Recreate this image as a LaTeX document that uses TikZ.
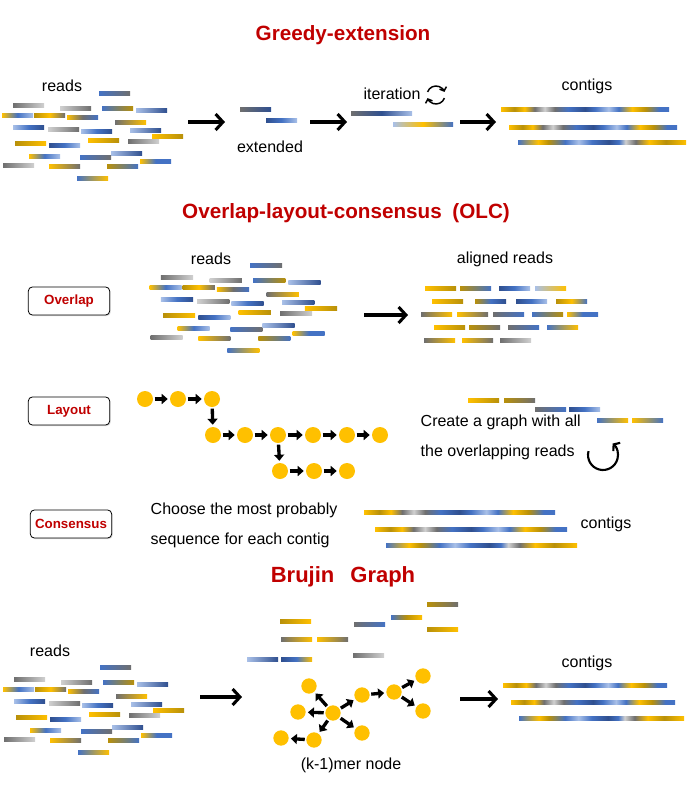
\documentclass[tikz,border=0pt]{standalone}
\usepackage{fontspec}
\setmainfont{Liberation Sans}
\usepackage{xcolor}
\usetikzlibrary{arrows.meta, shadows}

\definecolor{gold}{HTML}{FFC000}
\definecolor{dgold}{HTML}{B8900A}
\definecolor{blu}{HTML}{4472C4}
\definecolor{dblu}{HTML}{2F4F8F}
\definecolor{lblu}{HTML}{A9C0E8}
\definecolor{gry}{HTML}{6F6F6F}
\definecolor{lgry}{HTML}{D0D0D0}
\definecolor{titlered}{HTML}{C00000}

% contig shadings
\pgfdeclarehorizontalshading{contigA}{100bp}{color(0bp)=(gold); color(25bp)=(gold); color(29bp)=(dgold); color(32bp)=(gold); color(35bp)=(gry); color(38bp)=(lgry); color(41bp)=(gry); color(45bp)=(blu); color(50bp)=(dblu); color(53bp)=(blu); color(57bp)=(lblu); color(60bp)=(blu); color(64bp)=(gold); color(68bp)=(dgold); color(72bp)=(blu); color(75bp)=(blu); color(100bp)=(blu)}
\pgfdeclarehorizontalshading{contigB}{100bp}{color(0bp)=(blu); color(25bp)=(blu); color(31bp)=(gold); color(34bp)=(dgold); color(39bp)=(blu); color(43bp)=(lblu); color(47bp)=(blu); color(52bp)=(dblu); color(55bp)=(blu); color(57bp)=(lgry); color(60bp)=(gry); color(64bp)=(gold); color(69bp)=(dgold); color(75bp)=(gold); color(100bp)=(gold)}

% one read
\newcommand{\readbar}[3]{\shade[left color=#2, right color=#3] (#1) rectangle ++(31,4.5);}
\newcommand{\readbarm}[4]{\shade[left color=#2, right color=#4, middle color=#3] (#1) rectangle ++(31,4.5);}

% the cloud of reads
\newcommand{\readcloud}{%
  \readbar{99,91}{blu}{gry}
  \readbar{13,103}{gry}{lgry}
  \readbar{60,106}{lgry}{gry}
  \readbar{102,106}{blu}{dgold}
  \readbar{136,108}{lblu}{dblu}
  \readbarm{2,113}{gold}{blu}{lblu}
  \readbarm{34,113}{dgold}{gold}{gry}
  \readbarm{67,115}{gold}{gry}{blu}
  \readbar{115,120}{gry}{gold}
  \readbarm{13,125}{lblu}{blu}{dblu}
  \readbar{48,127}{lgry}{gry}
  \readbarm{81,129}{lblu}{blu}{dblu}
  \readbar{130,128}{lblu}{dblu}
  \readbar{152,134}{gold}{dgold}
  \readbar{88,138}{gold}{dgold}
  \readbar{128,139}{gry}{lgry}
  \readbar{15,141}{dgold}{gold}
  \readbarm{49,143}{dblu}{blu}{lblu}
  \readbar{111,151}{lblu}{dblu}
  \readbarm{29,154}{gold}{blu}{lblu}
  \readbar{80,155}{blu}{gry}
  \readbarm{140,159}{gold}{blu}{blu}
  \readbar{3,163}{gry}{lgry}
  \readbar{49,164}{gold}{gry}
  \readbar{107,164}{dgold}{blu}
  \readbar{77,176}{blu}{gold}
}

\begin{document}
\begin{tikzpicture}[x=0.75pt, y=-0.75pt,
    title/.style={font=\fontsize{15.5}{18}\selectfont\bfseries, text=titlered},
    lbl/.style={font=\fontsize{12}{14}\selectfont},
    stepbox/.style={draw, rounded corners=3pt, line width=0.6pt, fill=white, drop shadow={opacity=0.3, shadow xshift=0.8pt, shadow yshift=-0.8pt}, font=\fontsize{10}{12}\selectfont\bfseries, text=titlered, minimum width=61pt, minimum height=21pt},
    bigarrow/.style={line width=2.3pt, -{Straight Barb[length=5.5pt,width=12pt]}},
    dot/.style={circle, fill=gold, minimum size=12pt, inner sep=0pt},
    bdot/.style={circle, fill=gold, minimum size=11.5pt, inner sep=0pt},
    link/.style={line width=2.5pt, -{Triangle[length=4.5pt,width=7.5pt]}, shorten <=1pt, shorten >=1.5pt}]
    \useasboundingbox (0,0) rectangle (688,804);

    % Titles
    \node[title] (greedy) at (343,35) {Greedy-extension};
    \node[title] (olc) at (346,213) {Overlap-layout-consensus\hspace{8pt}(OLC)};
    \node[title, font=\fontsize{16.5}{19}\selectfont\bfseries] (brujin) at (343,577) {Brujin\hspace{12pt}Graph};

    % Greedy-extension
    \node[lbl] (reads1) at (62,86) {reads};
    \readcloud
    \node[lbl] (extended) at (270,147) {extended};
    \shade[left color=gry, right color=dblu] (240,107) rectangle (271,111);
    \shade[left color=dblu, right color=lblu, middle color=blu] (266,118) rectangle (297,122);
    \node[lbl] (iteration) at (392,94) {iteration};
    \shade[left color=gry, right color=lblu, middle color=dblu] (351,111) rectangle (412,115);
    \shade[left color=lblu, right color=blu, middle color=gold] (393,122) rectangle (453,126);
    \node[lbl] (contigs1) at (587,86) {contigs};
    \shade[shading=contigA] (501,107) rectangle (669,111);
    \shade[shading=contigA] (509,125) rectangle (677,129);
    \shade[shading=contigB] (518,140) rectangle (686,144);

    % iteration cycle
    \coordinate (cyc) at (436,95);
    \draw[line width=1.1pt, -{Straight Barb[length=2.5pt,width=5.5pt]}] ([shift={(-160:9)}]cyc) arc[start angle=-160, end angle=-20, radius=9];
    \draw[line width=1.1pt, -{Straight Barb[length=2.5pt,width=5.5pt]}] ([shift={(-340:9)}]cyc) arc[start angle=-340, end angle=-200, radius=9];

    % Greedy arrows
    \coordinate (ga) at (188,122);
    \coordinate (gb) at (225,122);
    \coordinate (gc) at (310,122);
    \coordinate (gd) at (347,122);
    \coordinate (ge) at (460,122);
    \coordinate (gf) at (496,122);
    \draw[bigarrow] (ga) -- (gb);
    \draw[bigarrow] (gc) -- (gd);
    \draw[bigarrow] (ge) -- (gf);

    % OLC: overlap
    \node[stepbox] (overlap) at (69,301) {Overlap};
    \node[lbl] (reads2) at (211,259) {reads};
    \begin{scope}[shift={(147.5,172)}, xscale=1.036]
        \readcloud
    \end{scope}
    \coordinate (oa) at (364,315);
    \coordinate (ob) at (408,315);
    \draw[bigarrow] (oa) -- (ob);
    \node[lbl] (aligned) at (505,259) {aligned reads};
    \readbar{425,286}{gold}{dgold}
    \readbar{460,286}{dgold}{blu}
    \readbarm{499,286}{dblu}{blu}{lblu}
    \readbar{535,286}{lblu}{gold}
    \readbar{432,299}{gold}{dgold}
    \readbarm{475,299}{dgold}{blu}{dblu}
    \readbarm{516,299}{dblu}{blu}{lblu}
    \readbarm{556,299}{dgold}{gold}{blu}
    \readbar{421,312}{gry}{gold}
    \readbar{457,312}{gold}{gry}
    \readbar{493,312}{gry}{blu}
    \readbar{532,312}{blu}{dgold}
    \readbarm{567,312}{gold}{blu}{blu}
    \readbar{434,325}{gold}{dgold}
    \readbar{469,325}{dgold}{gry}
    \readbar{508,325}{gry}{blu}
    \readbar{547,325}{blu}{gold}
    \readbar{424,338}{gry}{gold}
    \readbar{462,338}{gold}{gry}
    \readbar{500,338}{gry}{lgry}

    % OLC: layout
    \node[stepbox] (layout) at (69,411) {Layout};
    \node[dot] (a1) at (145,399) {};
    \node[dot] (a2) at (178,399) {};
    \node[dot] (a3) at (212,399) {};
    \node[dot] (b1) at (213,435) {};
    \node[dot] (b2) at (245,435) {};
    \node[dot] (b3) at (278,435) {};
    \node[dot] (b4) at (313,435) {};
    \node[dot] (b5) at (347,435) {};
    \node[dot] (b6) at (380,435) {};
    \node[dot] (c1) at (280,471) {};
    \node[dot] (c2) at (314,471) {};
    \node[dot] (c3) at (347,471) {};
    \draw[link] (a1) -- (a2);
    \draw[link] (a2) -- (a3);
    \draw[link] (a3) -- (b1);
    \draw[link] (b1) -- (b2);
    \draw[link] (b2) -- (b3);
    \draw[link] (b3) -- (b4);
    \draw[link] (b4) -- (b5);
    \draw[link] (b5) -- (b6);
    \draw[link] (b3) -- (c1);
    \draw[link] (c1) -- (c2);
    \draw[link] (c2) -- (c3);
    \readbar{468,398}{gold}{dgold}
    \readbar{504,398}{dgold}{gry}
    \readbar{535,407}{gry}{blu}
    \readbarm{569,407}{dblu}{blu}{lblu}
    \readbar{597,418}{blu}{gold}
    \readbar{632,418}{gold}{blu}
    \node[lbl, anchor=west, align=left, font=\fontsize{12}{22.5}\selectfont] (graphtxt) at (416,437) {Create a graph with all\\the overlapping reads};
    \coordinate (loop) at (603,455);
    \draw[line width=1.6pt, -{Straight Barb[length=3pt,width=8pt]}] ([shift={(-165:15)}]loop) arc[start angle=-165, end angle=-410, radius=15];

    % OLC: consensus
    \node[stepbox] (consensus) at (71,524) {Consensus};
    \node[lbl, anchor=west, align=left, font=\fontsize{12}{22.5}\selectfont] (choose) at (146,525) {Choose the most probably\\sequence for each contig};
    \shade[shading=contigA] (364,510) rectangle (555,514);
    \shade[shading=contigA] (375,527) rectangle (567,531);
    \shade[shading=contigB] (386,543) rectangle (577,547);
    \node[lbl] (contigs2) at (606,524) {contigs};

    % Brujin graph
    \node[lbl] (reads3) at (50,651) {reads};
    \begin{scope}[shift={(1,574)}]
        \readcloud
    \end{scope}
    \coordinate (ba) at (200,697);
    \coordinate (bb) at (242,697);
    \draw[bigarrow] (ba) -- (bb);
    \readbar{280,619}{dgold}{gold}
    \readbar{281,637}{gry}{gold}
    \readbar{317,637}{gold}{gry}
    \readbar{247,657}{lblu}{dblu}
    \readbarm{281,657}{dblu}{blu}{gold}
    \readbar{354,622}{gry}{blu}
    \readbarm{391,615}{blu}{dgold}{gold}
    \readbar{427,602}{dgold}{gry}
    \readbar{427,627}{dgold}{gold}
    \readbar{353,653}{gry}{lgry}
    \node[bdot] (k0) at (333,713) {};
    \node[bdot] (k1) at (309,686) {};
    \node[bdot] (k2) at (298,712) {};
    \node[bdot] (k3) at (314,740) {};
    \node[bdot] (k4) at (281,738) {};
    \node[bdot] (k5) at (362,733) {};
    \node[bdot] (k6) at (362,695) {};
    \node[bdot] (k7) at (394,692) {};
    \node[bdot] (k8) at (423,676) {};
    \node[bdot] (k9) at (423,711) {};
    \draw[link] (k0) -- (k1);
    \draw[link] (k0) -- (k2);
    \draw[link] (k0) -- (k3);
    \draw[link] (k0) -- (k5);
    \draw[link] (k0) -- (k6);
    \draw[link] (k3) -- (k4);
    \draw[link] (k6) -- (k7);
    \draw[link] (k7) -- (k8);
    \draw[link] (k7) -- (k9);
    \node[lbl] (kmer) at (351,765) {(k-1)mer node};
    \coordinate (bc) at (460,699);
    \coordinate (bd) at (498,699);
    \draw[bigarrow] (bc) -- (bd);
    \node[lbl] (contigs3) at (587,663) {contigs};
    \shade[shading=contigA] (503,683) rectangle (667,687);
    \shade[shading=contigA] (511,700) rectangle (675,704);
    \shade[shading=contigB] (519,716) rectangle (684,720);
\end{tikzpicture}
\end{document}
